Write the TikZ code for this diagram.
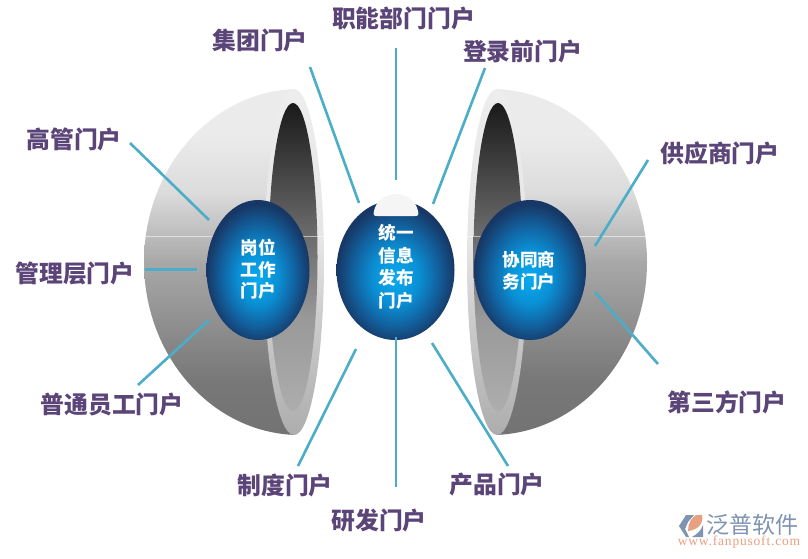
\documentclass[tikz,border=0pt]{standalone}
\usepackage{fontspec}
\setmainfont{Liberation Serif}
\newfontfamily\cjk{Noto Sans CJK SC}
\newfontfamily\urlfont[LetterSpace=6]{Liberation Serif}
\pgfdeclareverticalshading{bowlbody}{100bp}{
  color(0bp)=(black!55); color(25bp)=(black!55); color(33bp)=(black!53);
  color(50bp)=(black!34); color(60bp)=(black!14); color(68bp)=(black!8); color(100bp)=(black!8)}
\pgfdeclareverticalshading{bowlrim}{100bp}{
  color(0bp)=(black!32); color(25bp)=(black!32); color(42bp)=(black!20);
  color(53bp)=(black!10); color(75bp)=(black!7); color(100bp)=(black!7)}
\pgfdeclareverticalshading{bowlcav}{100bp}{
  color(0bp)=(black!32); color(25bp)=(black!32); color(40bp)=(black!40);
  color(55bp)=(black!60); color(75bp)=(black!90); color(100bp)=(black!90)}
\pgfdeclareradialshading{orbshade}{\pgfpoint{0bp}{-3bp}}{
  rgb(0bp)=(0.03,0.67,0.94); rgb(10bp)=(0.04,0.56,0.83); rgb(18bp)=(0.07,0.38,0.62);
  rgb(25bp)=(0.09,0.22,0.40); rgb(50bp)=(0.09,0.22,0.40)}
\definecolor{labelpurple}{HTML}{5B4478}
\definecolor{linkteal}{HTML}{4BADC8}
\definecolor{logoblue}{HTML}{7F93B2}
\definecolor{logosalmon}{HTML}{E8A080}
\tikzset{
  lab/.style={font=\cjk\bfseries\fontsize{23.8}{26}\selectfont,text=labelpurple,inner sep=0pt},
  orbtext/.style={font=\cjk\bfseries\fontsize{17.6}{21.6}\selectfont,text=white,align=center,inner sep=0pt},
  link/.style={draw=linkteal,line width=2.6pt},
  seam/.style={draw=white,opacity=.55,line width=1pt},
  orb/.style={shading=orbshade}
}
\begin{document}
\begin{tikzpicture}[x=1pt,y=-1pt]
\useasboundingbox[fill=white] (0,0) rectangle (808,558);
% left bowl
\begin{scope}
  \clip (100,60) rectangle (295,460);
  \shade[shading=bowlbody] (300,262) ellipse [x radius=156,y radius=173];
\end{scope}
\shade[shading=bowlrim] (294,262) ellipse [x radius=30,y radius=173];
\shade[shading=bowlcav] (293,257) ellipse [x radius=24.5,y radius=154];
\draw[seam] (145,236) -- (323,236);
% right bowl
\begin{scope}
  \clip (496,60) rectangle (700,460);
  \shade[shading=bowlbody] (491,262) ellipse [x radius=156,y radius=173];
\end{scope}
\shade[shading=bowlrim] (497,262) ellipse [x radius=30,y radius=173];
\shade[shading=bowlcav] (498,257) ellipse [x radius=24.5,y radius=154];
\draw[seam] (468,236) -- (646,236);
% orbs
\shade[orb] (258,270) ellipse [x radius=51.5,y radius=70];
\shade[orb] (395.5,270) ellipse [x radius=59,y radius=70];
\shade[orb] (530,270) ellipse [x radius=56,y radius=70];
\fill[black!4] (374,211) .. controls (376,201) and (385,194) .. (396,194)
  .. controls (407,194) and (416,201) .. (418,211)
  .. controls (419,215) and (418,216) .. (415,216) -- (377,216)
  .. controls (374,216) and (373,215) .. (374,211) -- cycle;
\node[orbtext] (o1) at (258,269.5) {岗位\\工作\\门户};
\node[orbtext,font=\cjk\bfseries\fontsize{17.6}{22.5}\selectfont] (o2) at (396,267) {统一\\信息\\发布\\门户};
\node[orbtext] (o3) at (529,271) {协同商\\务门户};
% labels
\node[lab] (l1) at (74,139) {高管门户};
\node[lab] (l2) at (260,40) {集团门户};
\node[lab] (l3) at (403.5,18) {职能部门门户};
\node[lab] (l4) at (522.5,51) {登录前门户};
\node[lab] (l5) at (720,153) {供应商门户};
\node[lab] (l6) at (75,273) {管理层门户};
\node[lab] (l7) at (112,404) {普通员工门户};
\node[lab] (l8) at (285,485) {制度门户};
\node[lab] (l9) at (379,520) {研发门户};
\node[lab] (l10) at (497,485) {产品门户};
\node[lab] (l11) at (727,402) {第三方门户};
% connector ends
\coordinate (a1) at (130,143); \coordinate (b1) at (209,220);
\coordinate (a2) at (310,67);  \coordinate (b2) at (359,203);
\coordinate (a3) at (396,48);  \coordinate (b3) at (396,180);
\coordinate (a4) at (485,68);  \coordinate (b4) at (433,204);
\coordinate (a5) at (648,160); \coordinate (b5) at (595,246);
\coordinate (a6) at (145,269.5); \coordinate (b6) at (197,269.5);
\coordinate (a7) at (138,385); \coordinate (b7) at (209,320);
\coordinate (a8) at (298,466); \coordinate (b8) at (356,349);
\coordinate (a9) at (396,487); \coordinate (b9) at (396,337);
\coordinate (a10) at (508,466); \coordinate (b10) at (432,343);
\coordinate (a11) at (658,364); \coordinate (b11) at (595,292);
\foreach \i in {1,...,11} \draw[link] (a\i) -- (b\i);
% logo
\fill[logoblue] (686,515) -- (694,515) -- (688,522) -- (685,529) -- (689,537) -- (686,537) -- (679,526) -- cycle;
\fill[logosalmon] (696,515) -- (702,515) .. controls (704,523) and (698,530) .. (688,531) .. controls (688,524) and (691,518) .. (696,515) -- cycle;
\fill[logoblue] (703,525) .. controls (701,531) and (697,534) .. (692,537) -- (703,537) -- cycle;
\node[font=\cjk\fontsize{23}{25}\selectfont,text=logoblue,inner sep=0pt] (logoname) at (752,525) {泛普软件};
\node[font=\urlfont\fontsize{13.5}{14}\selectfont,text=logosalmon,inner sep=0pt] (logourl) at (739,542.5) {www.fanpusoft.com};
\end{tikzpicture}
\end{document}
